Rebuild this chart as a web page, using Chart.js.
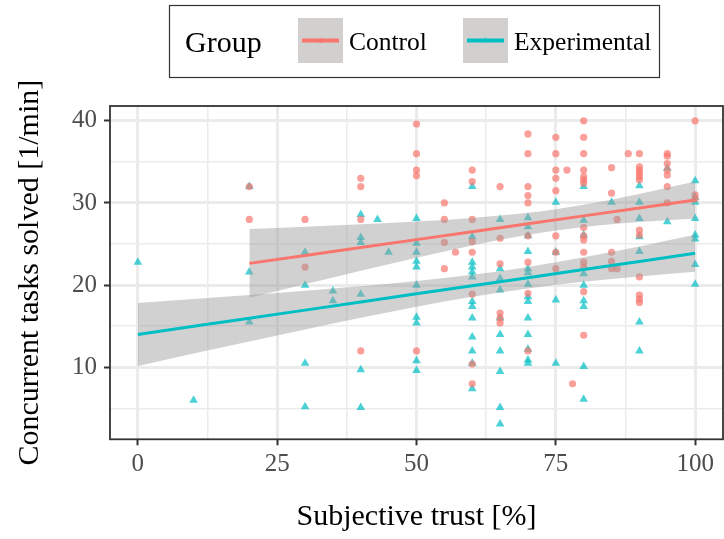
<!DOCTYPE html>
<html>
<head>
<meta charset="utf-8">
<title>Concurrent tasks vs subjective trust</title>
<script src="https://cdn.jsdelivr.net/npm/chart.js@4.4.1/dist/chart.umd.min.js"></script>
<style>
  html, body { margin: 0; padding: 0; background: #fff; overflow: hidden; }
  #wrap { position: relative; width: 724px; height: 539px; overflow: hidden; }
  canvas { display: block; }
</style>
</head>
<body>
<div id="wrap"><canvas id="trustChart" width="728" height="539" style="width:728px;height:539px"></canvas></div>
<script>
// Groups and colours (ggplot defaults)
const groupNames = ['Control', 'Experimental'];
const groupColors = ['#F8766D', '#00BFC4'];

// Axis ticks
const trustTicks = [0, 25, 50, 75, 100];
const trustGrid = [0, 12.5, 25, 37.5, 50, 62.5, 75, 87.5, 100];
const taskTicks = [10, 20, 30, 40];
const taskGrid = [5, 10, 15, 20, 25, 30, 35, 40];

// Observations: [subjective trust %, tasks solved per min]
const controlPoints = [
  [20, 32], [20, 28],
  [30, 28], [30, 22.2],
  [40, 33], [40, 32], [40, 28], [40, 12],
  [50, 39.6], [50, 36], [50, 34], [50, 33.3], [50, 12],
  [55, 30], [55, 28], [55, 25.2], [55, 22], [57, 24],
  [60, 34], [60, 32.6], [60, 28], [60, 25.3], [60, 24], [60, 18.9], [60, 10.4], [60, 8],
  [65, 32], [65, 25.7], [65, 22.6], [65, 16.6], [65, 16], [65, 15.4],
  [70, 38.4], [70, 36], [70, 32], [70, 30.9], [70, 30], [70, 26], [70, 22.8], [70, 19], [70, 12],
  [75, 38], [75, 36], [75, 34], [75, 33], [75, 31.5], [75, 26], [75, 24], [75, 22],
  [77, 34], [78, 8],
  [80, 40], [80, 38], [80, 36], [80, 34], [80, 33.2], [80, 32.8], [80, 32.4], [80, 27], [80, 26],
  [80, 25.5], [80, 24], [80, 22.8], [80, 22.2], [80, 19.2], [80, 13.9],
  [85, 34.3], [85, 31.2], [85, 24], [85, 22.9], [85, 22], [86, 28], [86, 22], [88, 36],
  [90, 36], [90, 34.4], [90, 34], [90, 33.6], [90, 33.2], [90, 32.8], [90, 26.7], [90, 26.1],
  [90, 21], [90, 18.8], [90, 18.3], [90, 17.9],
  [95, 36], [95, 35.7], [95, 34.8], [95, 34], [95, 33.4], [95, 32], [95, 30],
  [100, 40], [100, 31], [100, 30.5]
];
const experimentalPoints = [
  [0, 22.8], [10, 6],
  [20, 32], [20, 21.6], [20, 15.5],
  [30, 24], [30, 20], [30, 10.5], [30, 5.2],
  [35, 19.3], [35, 18.1],
  [40, 28.6], [40, 25.8], [40, 25.2], [40, 18.9], [40, 9.7], [40, 5.1],
  [43, 28], [45, 24],
  [50, 28.1], [50, 25.1], [50, 24], [50, 22.9], [50, 22.2], [50, 20], [50, 16.1], [50, 15.4],
  [50, 10.8], [50, 9.6],
  [60, 32], [60, 25.9], [60, 22.8], [60, 22.2], [60, 21.6], [60, 21], [60, 18], [60, 17.4],
  [60, 16], [60, 13.7], [60, 12], [60, 10.5], [60, 7.4],
  [65, 28], [65, 22], [65, 20.8], [65, 19.4], [65, 16], [65, 14], [65, 12], [65, 9.5],
  [65, 5.1], [65, 3.1],
  [70, 28.2], [70, 27.1], [70, 26], [70, 24.1], [70, 22], [70, 21.5], [70, 20.1], [70, 18.6],
  [70, 18], [70, 16], [70, 14], [70, 12.2], [70, 10.9], [70, 10.5],
  [75, 30.1], [75, 24], [75, 18.2], [75, 10.5],
  [80, 32], [80, 27.9], [80, 26.1], [80, 21.4], [80, 20], [80, 18.1], [80, 17.4], [80, 10.1], [80, 6.1],
  [85, 30.1],
  [90, 32.1], [90, 30.1], [90, 28.1], [90, 25.9], [90, 24.1], [90, 15.5], [90, 12],
  [95, 34.2], [95, 27.7],
  [100, 32.7], [100, 30.7], [100, 30.1], [100, 28.1], [100, 26.1], [100, 25.6], [100, 22.5], [100, 20.1]
];

// Linear fits with 95% confidence band
const ctrlFitX = [20, 30, 40, 50, 60, 70, 80, 90, 100];
const ctrlFit  = [22.65, 23.61, 24.58, 25.54, 26.50, 27.46, 28.43, 29.39, 30.35];
const ctrlHigh = [26.82, 27.10, 27.41, 27.75, 28.18, 28.80, 29.79, 31.10, 32.60];
const ctrlLow  = [18.48, 20.12, 21.75, 23.33, 24.82, 26.12, 27.07, 27.68, 28.10];

const expFitX = [0, 10, 20, 30, 40, 50, 60, 70, 80, 90, 100];
const expFit  = [14.00, 14.99, 15.97, 16.96, 17.95, 18.94, 19.92, 20.91, 21.90, 22.88, 23.87];
const expHigh = [17.83, 18.31, 18.80, 19.32, 19.88, 20.51, 21.26, 22.22, 23.40, 24.71, 26.12];
const expLow  = [10.17, 11.67, 13.14, 14.60, 16.02, 17.37, 18.58, 19.60, 20.40, 21.05, 21.62];

const serif = '"Liberation Serif", "Times New Roman", serif';
const bandFill = 'rgba(153, 153, 153, 0.45)';

function toXY(xs, ys) {
    return xs.map(function(x, i) { return { x: x, y: ys[i] }; });
}
function pairs(list) {
    return list.map(function(p) { return { x: p[0], y: p[1] }; });
}
function alpha(hex, a) {
    const n = parseInt(hex.slice(1), 16);
    return `rgba(${n >> 16}, ${(n >> 8) & 255}, ${n & 255}, ${a})`;
}

function bandDatasets(xs, hi, lo, order) {
    const common = { showLine: true, pointRadius: 0, borderWidth: 0, cubicInterpolationMode: 'monotone', order: order };
    return [
        Object.assign({ label: 'band-hi', data: toXY(xs, hi), fill: '+1', backgroundColor: bandFill }, common),
        Object.assign({ label: 'band-lo', data: toXY(xs, lo), fill: false }, common)
    ];
}

// Panel border (ggplot theme_bw)
const panelBorder = {
    id: 'panelBorder',
    afterDraw(chart) {
        const { ctx, chartArea: a } = chart;
        ctx.save();
        ctx.strokeStyle = '#333333';
        ctx.lineWidth = 1.8;
        ctx.strokeRect(a.left, a.top, a.right - a.left, a.bottom - a.top);
        ctx.restore();
    }
};

// Legend box on top: "Group" + key for each group
const groupLegend = {
    id: 'groupLegend',
    afterDraw(chart) {
        const ctx = chart.ctx;
        ctx.save();
        ctx.fillStyle = '#ffffff';
        ctx.fillRect(169, 5, 490, 72);
        ctx.strokeStyle = '#333333';
        ctx.lineWidth = 1.2;
        ctx.strokeRect(169.5, 5.5, 490, 72);

        ctx.fillStyle = '#000000';
        ctx.textBaseline = 'alphabetic';
        ctx.font = '30px ' + serif;
        ctx.fillText('Group', 185, 52);

        const keyX = [298, 463];
        ctx.font = '25.5px ' + serif;
        groupNames.forEach(function(name, i) {
            const x = keyX[i], y = 18, s = 45;
            ctx.fillStyle = 'rgb(209, 208, 207)';
            ctx.fillRect(x, y, s, s);
            ctx.strokeStyle = groupColors[i];
            ctx.lineWidth = 4;
            ctx.beginPath();
            ctx.moveTo(x + 4, y + s / 2);
            ctx.lineTo(x + s - 4, y + s / 2);
            ctx.stroke();
            ctx.fillStyle = alpha(groupColors[i], 0.7);
            ctx.beginPath();
            if (i === 0) {
                ctx.arc(x + s / 2, y + s / 2, 2.6, 0, Math.PI * 2);
            } else {
                ctx.moveTo(x + s / 2, y + s / 2 - 3.5);
                ctx.lineTo(x + s / 2 + 3, y + s / 2 + 1.8);
                ctx.lineTo(x + s / 2 - 3, y + s / 2 + 1.8);
                ctx.closePath();
            }
            ctx.fill();
            ctx.fillStyle = '#000000';
            ctx.fillText(name, x + s + 6, 50);
        });
        ctx.restore();
    }
};

const isMajorX = function(v) { return trustTicks.indexOf(v) >= 0; };
const isMajorY = function(v) { return taskTicks.indexOf(v) >= 0; };

const ctx = document.getElementById('trustChart');
new Chart(ctx, {
    type: 'scatter',
    data: {
        datasets: [
            // experimental smooth (drawn last)
            { label: 'exp-fit', data: toXY(expFitX, expFit), showLine: true, pointRadius: 0,
              borderColor: groupColors[1], borderWidth: 3, order: 0 },
            ...bandDatasets(expFitX, expHigh, expLow, 1),
            { label: 'ctrl-fit', data: toXY(ctrlFitX, ctrlFit), showLine: true, pointRadius: 0,
              borderColor: groupColors[0], borderWidth: 3, order: 2 },
            ...bandDatasets(ctrlFitX, ctrlHigh, ctrlLow, 3),
            { label: groupNames[0], data: pairs(controlPoints), pointStyle: 'circle', pointRadius: 3.6,
              backgroundColor: alpha(groupColors[0], 0.7), borderWidth: 0, order: 4 },
            { label: groupNames[1], data: pairs(experimentalPoints), pointStyle: 'triangle', pointRadius: 5,
              backgroundColor: alpha(groupColors[1], 0.7), borderWidth: 0, order: 5 }
        ]
    },
    options: {
        responsive: false,
        animation: false,
        events: [],
        layout: { padding: { top: 106, right: 0, bottom: 0, left: 0 } },
        plugins: {
            legend: { display: false },
            tooltip: { enabled: false }
        },
        scales: {
            x: {
                type: 'linear',
                min: -5,
                max: 105,
                afterBuildTicks: function(scale) {
                    scale.ticks = trustGrid.map(function(v) { return { value: v }; });
                },
                afterFit: function(scale) { scale.height = 99.7; },
                border: { display: false },
                grid: {
                    color: '#EBEBEB',
                    lineWidth: function(c) { return c.tick && isMajorX(c.tick.value) ? 3 : 1.5; },
                    drawTicks: true,
                    tickLength: 6,
                    tickColor: function(c) { return c.tick && isMajorX(c.tick.value) ? '#333333' : 'rgba(0,0,0,0)'; },
                    tickWidth: 2
                },
                ticks: {
                    autoSkip: false,
                    maxRotation: 0,
                    padding: 4,
                    color: '#4D4D4D',
                    font: { family: serif, size: 25 },
                    callback: function(v) { return isMajorX(v) ? String(v) : ''; }
                },
                title: {
                    display: true,
                    text: 'Subjective trust [%]',
                    color: '#000000',
                    font: { family: serif, size: 30 },
                    padding: { top: 0, bottom: 4 }
                }
            },
            y: {
                type: 'linear',
                min: 1.24,
                max: 41.8,
                afterBuildTicks: function(scale) {
                    scale.ticks = taskGrid.map(function(v) { return { value: v }; });
                },
                afterFit: function(scale) { scale.width = 110; },
                border: { display: false },
                grid: {
                    color: '#EBEBEB',
                    lineWidth: function(c) { return c.tick && isMajorY(c.tick.value) ? 3 : 1.5; },
                    drawTicks: true,
                    tickLength: 6,
                    tickColor: function(c) { return c.tick && isMajorY(c.tick.value) ? '#333333' : 'rgba(0,0,0,0)'; },
                    tickWidth: 2
                },
                ticks: {
                    autoSkip: false,
                    padding: 7,
                    color: '#4D4D4D',
                    font: { family: serif, size: 25 },
                    callback: function(v) { return isMajorY(v) ? String(v) : ''; }
                },
                title: {
                    display: true,
                    text: 'Concurrent tasks solved [1/min]',
                    color: '#000000',
                    font: { family: serif, size: 30 },
                    padding: { top: 12, bottom: 0 }
                }
            }
        }
    },
    plugins: [panelBorder, groupLegend]
});
</script>
</body>
</html>
